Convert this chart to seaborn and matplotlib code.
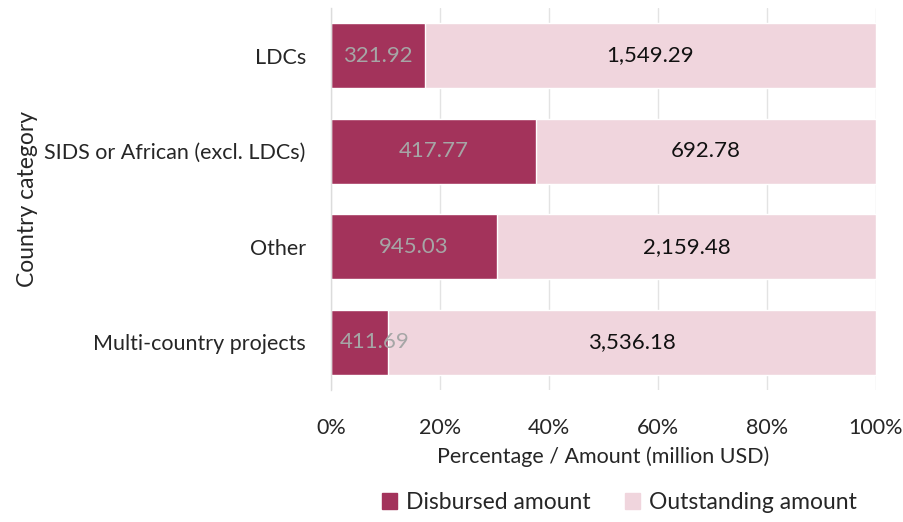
import matplotlib
matplotlib.use("Agg")
import matplotlib.pyplot as plt
import seaborn as sns
import pandas as pd
import numpy as np
from matplotlib.patches import Patch

categories = ["LDCs", "SIDS or African (excl. LDCs)", "Other", "Multi-country projects"]
disbursed = [321.92, 417.77, 945.03, 411.69]
outstanding = [1549.29, 692.78, 2159.48, 3536.18]
tick_labels = ["0%", "20%", "40%", "60%", "80%", "100%"]

c_dis = "#a3335b"
c_out = "#f0d5dd"

sns.set_theme(style="white")
plt.rcParams["font.family"] = ["Lato", "DejaVu Sans"]

tot = np.array(disbursed) + np.array(outstanding)
p_dis = np.array(disbursed) / tot * 100
df = pd.DataFrame({"cat": categories, "total": 100.0, "dis": p_dis})

fig = plt.figure(figsize=(9.04, 5.22), dpi=100)
ax = fig.add_axes([0.366, 0.253, 0.603, 0.732])

sns.barplot(data=df, y="cat", x="total", color=c_out, width=0.68, ax=ax, saturation=1)
sns.barplot(data=df, y="cat", x="dis", color=c_dis, width=0.68, ax=ax, saturation=1)

for i in range(len(categories)):
    xd = max(p_dis[i] / 2, 8.1)
    ax.text(xd, i, f"{disbursed[i]:,.2f}", ha="center", va="center", color="#a6a6a6", fontsize=16)
    xo = p_dis[i] + (100 - p_dis[i]) / 2
    ax.text(xo, i, f"{outstanding[i]:,.2f}", ha="center", va="center", color="#111111", fontsize=16)

ax.set_xlim(0, 100)
ax.set_ylim(3.5, -0.5)
ax.set_xticks(np.arange(0, 101, 20))
ax.set_xticklabels(tick_labels, fontsize=15.5)
ax.tick_params(axis="y", labelsize=15.5, pad=12)
ax.tick_params(axis="x", pad=14)
ax.xaxis.grid(True, color="#e3e3e3", linewidth=1)
ax.set_axisbelow(True)
for s in ["top", "right", "bottom"]:
    ax.spines[s].set_visible(False)
ax.spines["left"].set_color("#dcdcdc")
ax.spines["left"].set_linewidth(1)
ax.set_xlabel("Percentage / Amount (million USD)", fontsize=15.5, labelpad=6)
ax.set_ylabel("Country category", fontsize=16.5, labelpad=5)

handles = [Patch(color=c_dis, label="Disbursed amount"), Patch(color=c_out, label="Outstanding amount")]
fig.legend(handles=handles, loc="center", bbox_to_anchor=(0.685, 0.037), ncol=2, frameon=False,
           fontsize=16.5, handlelength=0.65, handleheight=0.65, handletextpad=0.4, columnspacing=1.5)

fig.savefig("out.png", dpi=100)
